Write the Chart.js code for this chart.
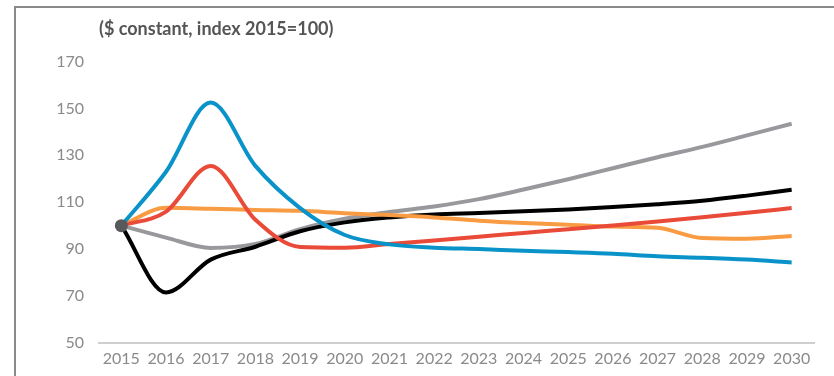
<!DOCTYPE html>
<html>
<head>
<meta charset="utf-8">
<script src="https://cdn.jsdelivr.net/npm/chart.js@4/dist/chart.umd.min.js"></script>
<style>
  html, body { margin: 0; padding: 0; background: #fff; }
  #wrap { position: relative; width: 834px; height: 376px; overflow: hidden; }
  #frame { position: absolute; left: 14px; top: 6px; width: 830px; height: 380px;
           border-left: 2px solid #8a8a8a; border-top: 2px solid #8a8a8a; box-sizing: border-box; }
  canvas { position: absolute; left: 0; top: 0; }
</style>
</head>
<body>
<div id="wrap">
  <div id="frame"></div>
  <canvas id="c" width="834" height="376"></canvas>
</div>
<script>
const titleText = '($ constant, index 2015=100)';
const years = ['2015','2016','2017','2018','2019','2020','2021','2022','2023','2024','2025','2026','2027','2028','2029','2030'];
const yTicks = [50, 70, 90, 110, 130, 150, 170];
const blueSeries   = [100, 123, 152.5, 125.5, 107.5, 96, 92, 90.6, 90, 89.3, 88.7, 88, 86.9, 86.3, 85.5, 84.3];
const redSeries    = [100, 106, 125.5, 102.5, 90.9, 90.6, 92.2, 93.7, 95.3, 96.9, 98.5, 100.1, 101.8, 103.6, 105.5, 107.5];
const orangeSeries = [100, 107.6, 107.2, 106.7, 106.3, 105.3, 104.5, 103.5, 102.1, 101.1, 100.4, 99.6, 99.1, 94.7, 94.4, 95.6];
const blackSeries  = [100, 71.5, 85.5, 91, 97.6, 101.4, 103.5, 104.8, 105.4, 106.1, 106.9, 107.9, 109.1, 110.6, 112.8, 115.3];
const greySeries   = [100, 94.9, 90.5, 92.2, 98.5, 102.9, 105.8, 108.2, 111.3, 115.4, 119.8, 124.5, 129.2, 133.6, 138.5, 143.5];
const startPoint   = [100, null, null, null, null, null, null, null, null, null, null, null, null, null, null, null];

const line = (data, color) => ({
  data, borderColor: color, backgroundColor: color, borderWidth: 4,
  pointRadius: 0, fill: false, cubicInterpolationMode: 'monotone', borderCapStyle: 'butt'
});

new Chart(document.getElementById('c'), {
  type: 'line',
  data: {
    labels: years,
    datasets: [
      { data: startPoint, showLine: false, pointRadius: 6.5, pointBackgroundColor: '#58595b', pointBorderWidth: 0, borderColor: '#58595b' },
      line(blueSeries, '#0a93c9'),
      line(redSeries, '#e94b38'),
      line(orangeSeries, '#f99b43'),
      line(blackSeries, '#000000'),
      line(greySeries, '#99989c')
    ]
  },
  options: {
    responsive: false,
    animation: false,
    events: [],
    layout: { padding: { left: 0, right: 20, top: 6, bottom: 2 } },
    plugins: {
      legend: { display: false },
      tooltip: { enabled: false },
      title: {
        display: true, text: titleText, align: 'start', fullSize: false,
        color: '#555555', font: { family: 'Lato', size: 18, weight: 'bold' },
        padding: { top: 12, bottom: 22 }
      }
    },
    scales: {
      x: {
        offset: true,
        grid: { display: false, drawTicks: false },
        border: { display: true, color: '#cfcfcf', width: 2 },
        ticks: { color: '#8a8a8a', font: { family: 'Lato', size: 16 }, padding: 6, autoSkip: false, maxRotation: 0 }
      },
      y: {
        min: 50, max: 170,
        afterFit: (s) => { s.width = 99; },
        afterBuildTicks: (s) => { s.ticks = yTicks.map(v => ({ value: v })); },
        grid: { display: false, drawTicks: false },
        border: { display: false },
        ticks: { color: '#8a8a8a', font: { family: 'Lato', size: 16 }, padding: 15 }
      }
    }
  }
});
</script>
</body>
</html>
